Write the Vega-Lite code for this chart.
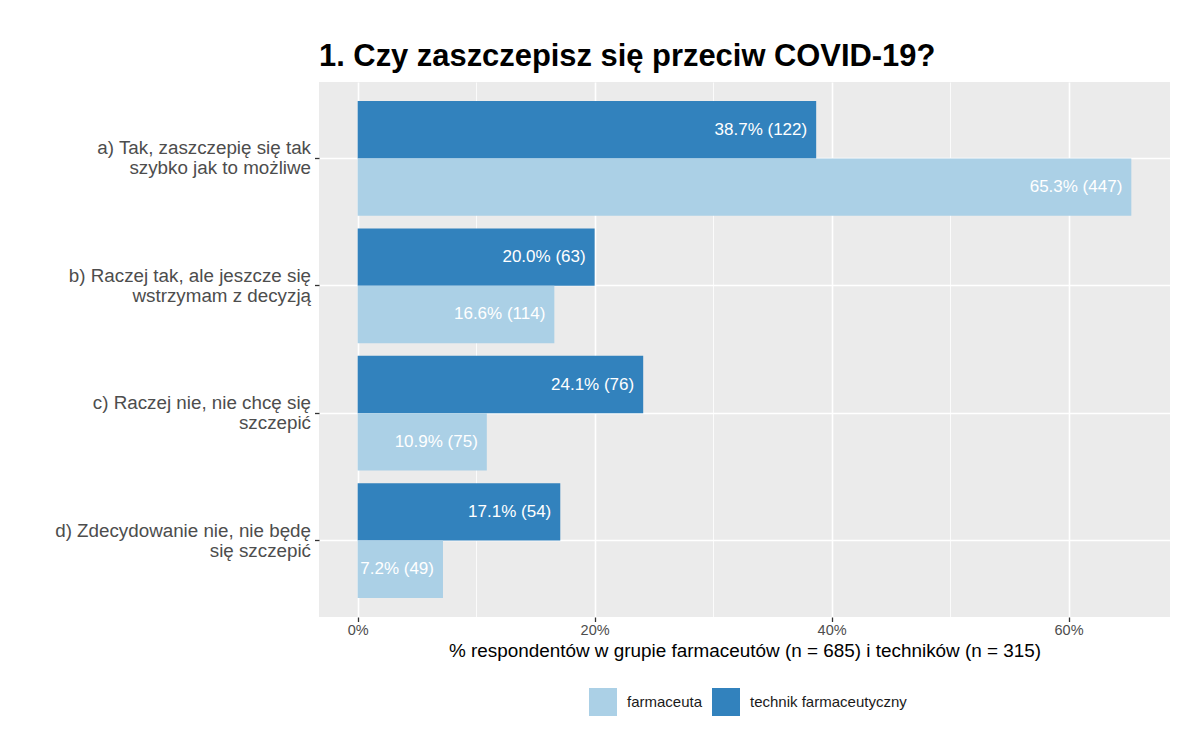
{
  "$schema": "https://vega.github.io/schema/vega-lite/v6.json",
  "autosize": "none",
  "width": 851,
  "height": 535,
  "padding": {"left": 319, "top": 82, "right": 31, "bottom": 128},
  "background": "white",
  "config": {
    "font": "Liberation Sans",
    "view": {"fill": "#ebebeb", "stroke": null}
  },
  "title": {
    "text": "1. Czy zaszczepisz się przeciw COVID-19?",
    "anchor": "start",
    "frame": "group",
    "font": "Liberation Sans",
    "fontSize": 30.9,
    "fontWeight": "bold",
    "color": "#000000",
    "baseline": "alphabetic",
    "offset": 17,
    "dy": 32
  },
  "data": {
    "values": [
      {"odp": "a) Tak, zaszczepię się tak\nszybko jak to możliwe", "grupa": "technik farmaceutyczny", "pct": 38.7, "label": "38.7% (122)"},
      {"odp": "a) Tak, zaszczepię się tak\nszybko jak to możliwe", "grupa": "farmaceuta", "pct": 65.3, "label": "65.3% (447)"},
      {"odp": "b) Raczej tak, ale jeszcze się\nwstrzymam z decyzją", "grupa": "technik farmaceutyczny", "pct": 20.0, "label": "20.0% (63)"},
      {"odp": "b) Raczej tak, ale jeszcze się\nwstrzymam z decyzją", "grupa": "farmaceuta", "pct": 16.6, "label": "16.6% (114)"},
      {"odp": "c) Raczej nie, nie chcę się\nszczepić", "grupa": "technik farmaceutyczny", "pct": 24.1, "label": "24.1% (76)"},
      {"odp": "c) Raczej nie, nie chcę się\nszczepić", "grupa": "farmaceuta", "pct": 10.9, "label": "10.9% (75)"},
      {"odp": "d) Zdecydowanie nie, nie będę\nsię szczepić", "grupa": "technik farmaceutyczny", "pct": 17.1, "label": "17.1% (54)"},
      {"odp": "d) Zdecydowanie nie, nie będę\nsię szczepić", "grupa": "farmaceuta", "pct": 7.2, "label": "7.2% (49)"}
    ]
  },
  "encoding": {
    "y": {
      "field": "odp",
      "type": "nominal",
      "sort": null,
      "scale": {"paddingInner": 0.1, "paddingOuter": 0.15},
      "axis": {
        "title": null,
        "labelExpr": "split(datum.label, '\\n')",
        "labelFont": "Liberation Sans",
        "labelFontSize": 18.8,
        "labelColor": "#4d4d4d",
        "labelLineHeight": 20,
        "labelAlign": "right",
        "labelBaseline": "middle",
        "labelOffset": -10,
        "labelLimit": 0,
        "labelPadding": 4,
        "tickColor": "#333333",
        "tickSize": 4.5,
        "tickWidth": 1.3,
        "domain": false,
        "grid": true,
        "gridColor": "white",
        "gridWidth": 1.6
      }
    },
    "yOffset": {
      "field": "grupa",
      "type": "nominal",
      "sort": ["technik farmaceutyczny", "farmaceuta"]
    },
    "x": {
      "field": "pct",
      "type": "quantitative",
      "scale": {"domain": [-3.265, 68.565], "nice": false, "zero": false},
      "axis": {
        "values": [0, 10, 20, 30, 40, 50, 60],
        "labelExpr": "datum.value % 20 === 0 ? datum.value + '%' : ''",
        "grid": true,
        "gridColor": "white",
        "gridWidth": {"condition": {"test": "datum.value % 20 === 0", "value": 1.6}, "value": 0.8},
        "tickOpacity": {"condition": {"test": "datum.value % 20 === 0", "value": 1}, "value": 0},
        "tickColor": "#333333",
        "tickSize": 4.5,
        "tickWidth": 1.3,
        "domain": false,
        "labelFont": "Liberation Sans",
        "labelFontSize": 14.5,
        "labelColor": "#4d4d4d",
        "labelPadding": 2,
        "title": "% respondentów w grupie farmaceutów (n = 685) i techników (n = 315)",
        "titleFont": "Liberation Sans",
        "titleFontSize": 18.9,
        "titleFontWeight": "normal",
        "titleColor": "#000000",
        "titleBaseline": "alphabetic",
        "titleY": 39
      }
    }
  },
  "layer": [
    {
      "mark": {"type": "bar"},
      "encoding": {
        "x2": {"datum": 0},
        "color": {
          "field": "grupa",
          "type": "nominal",
          "scale": {"domain": ["farmaceuta", "technik farmaceutyczny"], "range": ["#abd0e6", "#3282bd"]},
          "legend": {
            "orient": "none",
            "legendX": 270,
            "legendY": 606,
            "direction": "horizontal",
            "title": null,
            "symbolType": "square",
            "symbolSize": 784,
            "symbolStrokeWidth": 0,
            "symbolOpacity": 1,
            "labelFont": "Liberation Sans",
            "labelFontSize": 15,
            "labelColor": "#1a1a1a",
            "labelOffset": 10,
            "columnPadding": 9,
            "padding": 0
          }
        }
      }
    },
    {
      "mark": {"type": "text", "align": "right", "dx": -9, "baseline": "middle", "color": "white", "fontSize": 17, "font": "Liberation Sans"},
      "encoding": {"text": {"field": "label"}}
    }
  ]
}
